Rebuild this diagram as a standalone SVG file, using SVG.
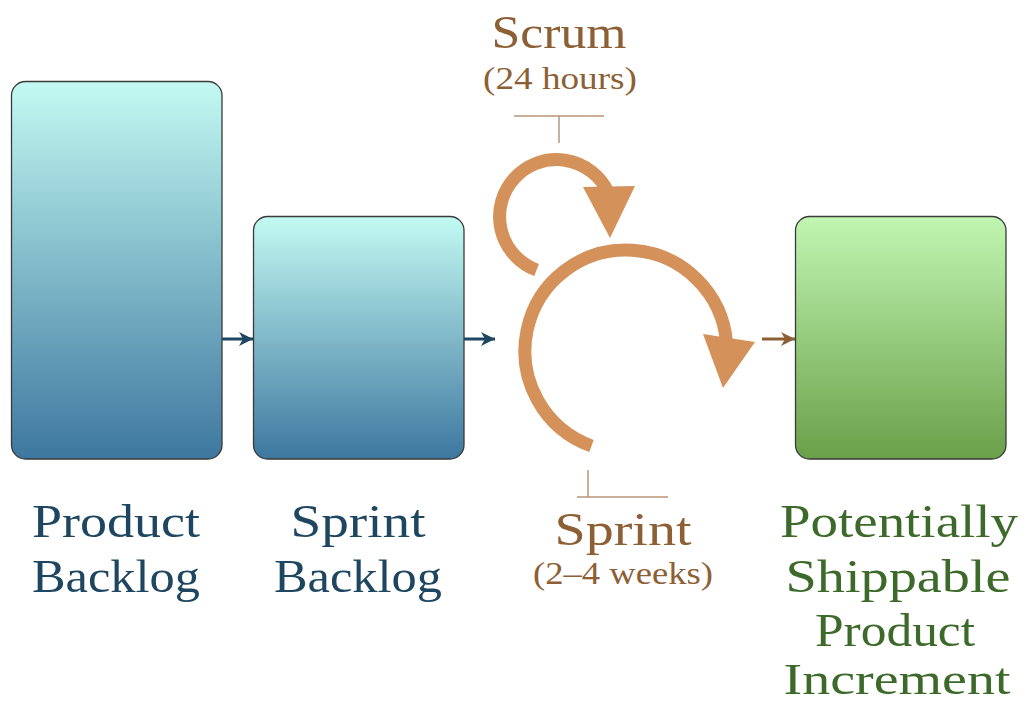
<svg xmlns="http://www.w3.org/2000/svg" width="1027" height="707" viewBox="0 0 1027 707">
<style>
.box{stroke:#3a3a3a;stroke-width:1.3}
.t{font-family:"Liberation Serif","DejaVu Serif",serif;text-anchor:middle}
.blue{fill:#1f4660}
.green{fill:#3d6a2a}
.brown{fill:#8d5f35}
.loop{fill:none;stroke:#d4915a;stroke-width:13}
.head{fill:#d4915a}
.brk{fill:none;stroke:#b99679;stroke-width:1.5}
.conn{fill:none;stroke-width:3}
</style>
<defs>
<linearGradient id="gb" x1="0" y1="0" x2="0" y2="1">
<stop offset="0" stop-color="#c2faf2"/>
<stop offset="1" stop-color="#3e779f"/>
</linearGradient>
<linearGradient id="gg" x1="0" y1="0" x2="0" y2="1">
<stop offset="0" stop-color="#c1f6b2"/>
<stop offset="1" stop-color="#6aa049"/>
</linearGradient>
<marker id="ab" markerWidth="15" markerHeight="14" refX="14" refY="7" orient="auto" markerUnits="userSpaceOnUse">
<path d="M0,0 L14,7 L0,14 L4,7 Z" fill="#1f4660"/>
</marker>
<marker id="ar" markerWidth="15" markerHeight="14" refX="14" refY="7" orient="auto" markerUnits="userSpaceOnUse">
<path d="M0,0 L14,7 L0,14 L4,7 Z" fill="#8d5f35"/>
</marker>
</defs>

<g id="product-backlog">
<rect class="box" x="11.5" y="81.5" width="210.5" height="377.5" rx="14" fill="url(#gb)"/>
<text class="t blue" font-size="47" x="116" y="537" textLength="168" lengthAdjust="spacingAndGlyphs">Product</text>
<text class="t blue" font-size="47" x="116" y="592" textLength="168" lengthAdjust="spacingAndGlyphs">Backlog</text>
</g>

<g id="sprint-backlog">
<rect class="box" x="253.5" y="216.5" width="210.5" height="242.5" rx="14" fill="url(#gb)"/>
<text class="t blue" font-size="47" x="358" y="537" textLength="135" lengthAdjust="spacingAndGlyphs">Sprint</text>
<text class="t blue" font-size="47" x="358" y="592" textLength="168" lengthAdjust="spacingAndGlyphs">Backlog</text>
</g>

<g id="sprint-cycle">
<path class="loop" d="M591.5,446 A101,101 0 1 1 726.6,343"/>
<path class="head" d="M703,334 L755,342 L723,388 Z"/>
<path class="loop" d="M536.6,270 A57,57 0 1 1 608,192"/>
<path class="head" d="M583,187 L635,186 L610,238 Z"/>
</g>

<g id="scrum-label">
<path class="brk" d="M514,116 H604 M559,116 V143"/>
<text class="t brown" font-size="46" x="559" y="48" textLength="135" lengthAdjust="spacingAndGlyphs">Scrum</text>
<text class="t brown" font-size="31" x="560" y="89" textLength="154" lengthAdjust="spacingAndGlyphs">(24 hours)</text>
</g>

<g id="sprint-label">
<path class="brk" d="M588,470 V497 M577,497 H668"/>
<text class="t brown" font-size="46" x="623" y="545" textLength="137" lengthAdjust="spacingAndGlyphs">Sprint</text>
<text class="t brown" font-size="31" x="623" y="584" textLength="180" lengthAdjust="spacingAndGlyphs">(2–4 weeks)</text>
</g>

<g id="increment">
<rect class="box" x="795.5" y="216.5" width="210.5" height="242.5" rx="14" fill="url(#gg)"/>
<text class="t green" font-size="47" x="899" y="537" textLength="238" lengthAdjust="spacingAndGlyphs">Potentially</text>
<text class="t green" font-size="47" x="898" y="592" textLength="225" lengthAdjust="spacingAndGlyphs">Shippable</text>
<text class="t green" font-size="47" x="895" y="646" textLength="160" lengthAdjust="spacingAndGlyphs">Product</text>
<text class="t green" font-size="45" x="897" y="694" textLength="227" lengthAdjust="spacingAndGlyphs">Increment</text>
</g>

<g id="connectors">
<line class="conn" x1="222" y1="339" x2="253" y2="339" stroke="#1f4660" marker-end="url(#ab)"/>
<line class="conn" x1="464" y1="339" x2="495" y2="339" stroke="#1f4660" marker-end="url(#ab)"/>
<line class="conn" x1="762" y1="339" x2="795" y2="339" stroke="#8d5f35" marker-end="url(#ar)"/>
</g>
</svg>
